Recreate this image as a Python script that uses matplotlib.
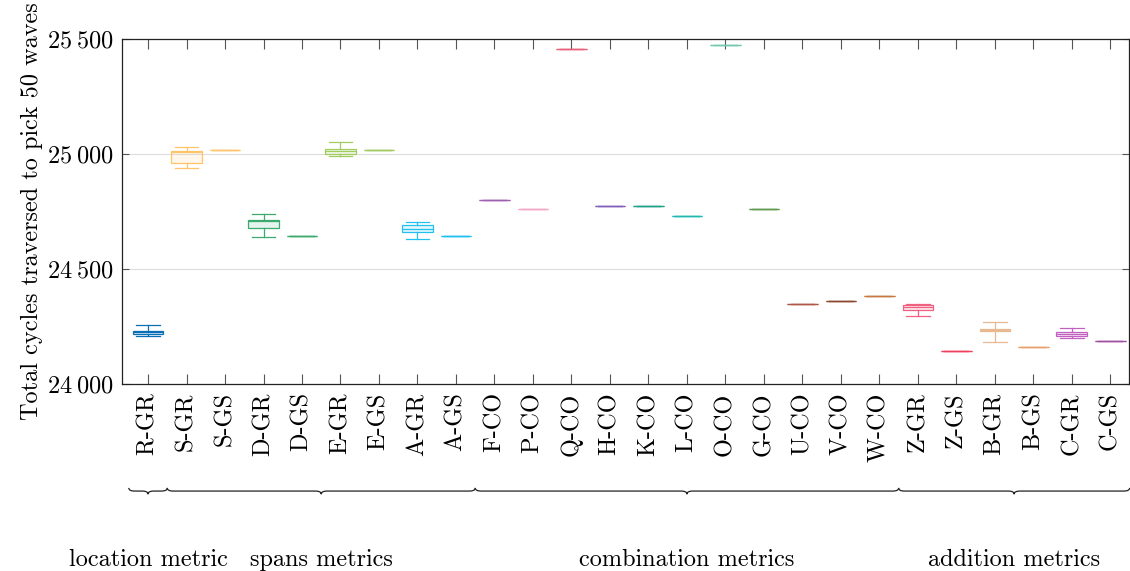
import matplotlib
matplotlib.use("Agg")
import matplotlib.pyplot as plt
from matplotlib.path import Path
from matplotlib.patches import PathPatch
from matplotlib.transforms import blended_transform_factory
from matplotlib.ticker import FuncFormatter

## data
labels = ["R-GR", "S-GR", "S-GS", "D-GR", "D-GS", "E-GR", "E-GS", "A-GR", "A-GS",
          "F-CO", "P-CO", "Q-CO", "H-CO", "K-CO", "L-CO", "O-CO", "G-CO",
          "U-CO", "V-CO", "W-CO", "Z-GR", "Z-GS", "B-GR", "B-GS", "C-GR", "C-GS"]
whisker_low = [24207, 24939, 25019, 24638, 24645, 24990, 25017, 24632, 24645,
               24800, 24761, 25457, 24775, 24775, 24730, 25475, 24761,
               24349, 24361, 24384, 24294, 24145, 24184, 24162, 24199, 24186]
quart_low = [24218, 24962, 25019, 24677, 24645, 25000, 25017, 24662, 24645,
             24800, 24761, 25457, 24775, 24775, 24730, 25475, 24761,
             24349, 24361, 24384, 24320, 24145, 24229, 24162, 24207, 24186]
medians = [24226, 25010, 25019, 24707, 24645, 25013, 25017, 24673, 24645,
           24800, 24761, 25457, 24775, 24775, 24730, 25475, 24761,
           24349, 24361, 24384, 24333, 24145, 24235, 24162, 24217, 24186]
quart_high = [24232, 25012, 25019, 24713, 24645, 25020, 25017, 24690, 24645,
              24800, 24761, 25457, 24775, 24775, 24730, 25475, 24761,
              24349, 24361, 24384, 24342, 24145, 24240, 24162, 24226, 24186]
whisker_high = [24255, 25029, 25019, 24738, 24645, 25053, 25017, 24703, 24645,
                24800, 24761, 25457, 24775, 24775, 24730, 25475, 24761,
                24349, 24361, 24384, 24346, 24145, 24271, 24162, 24242, 24186]
colors = ["#0a6eb4", "#ffc46a", "#ffc46a", "#3caa6e", "#3caa6e", "#a0cc60", "#a0cc60",
          "#22c0ee", "#22c0ee", "#a060b0", "#f4a8c8", "#e8607a", "#8060b8", "#20a088",
          "#20b8b0", "#70c8b0", "#609850", "#b05848", "#8b4a30", "#c87840", "#f06080",
          "#f04060", "#e8b890", "#e8a070", "#c060c0", "#a050a0"]

## groups: (name, first position, last position)
group_names = ["location metric", "spans metrics", "combination metrics", "addition metrics"]
group_first = [1, 2, 10, 21]
group_last = [1, 9, 20, 26]

y_ticks = [24000, 24500, 25000, 25500]


def draw_brace(ax, fig, x0, x1, y, amp):
    """
    draw a horizontal curly brace, tip pointing down
    """

    ## shape
    d = 0.15
    xm = (x0 + x1) / 2.0
    verts = [(x0, y + amp), (x0, y), (x0 + d, y),
             (xm - d, y),
             (xm, y), (xm, y - amp),
             (xm, y), (xm + d, y),
             (x1 - d, y),
             (x1, y), (x1, y + amp)]
    codes = [Path.MOVETO, Path.CURVE3, Path.CURVE3,
             Path.LINETO,
             Path.CURVE3, Path.CURVE3,
             Path.CURVE3, Path.CURVE3,
             Path.LINETO,
             Path.CURVE3, Path.CURVE3]
    trans = blended_transform_factory(ax.transData, fig.transFigure)
    patch = PathPatch(Path(verts, codes), facecolor="none", edgecolor="#222222",
                      lw=0.9, transform=trans, clip_on=False)
    fig.add_artist(patch)


def thin_space(v, pos):
    """
    format 25500 as 25 500
    """
    s = "%d" % v
    return r"$%s\:%s$" % (s[:-3], s[-3:])


## fonts
plt.rcParams["font.family"] = "serif"
plt.rcParams["font.serif"] = ["cmr10", "DejaVu Serif"]
plt.rcParams["mathtext.fontset"] = "cm"
plt.rcParams["axes.unicode_minus"] = False
plt.rcParams["font.size"] = 17.5

fig = plt.figure(figsize=(11.3, 5.71), dpi=100)
ax = fig.add_axes([0.108, 0.3275, 0.891, 0.6042])

## box stats
stats = []
for i in range(len(labels)):
    stats.append({"med": medians[i], "q1": quart_low[i], "q3": quart_high[i],
                  "whislo": whisker_low[i], "whishi": whisker_high[i],
                  "fliers": [], "label": labels[i]})

positions = list(range(1, len(labels) + 1))
bp = ax.bxp(stats, positions=positions, widths=0.8, capwidths=0.62,
            patch_artist=True, showfliers=False, zorder=3)

## color everything
for i in range(len(labels)):
    c = colors[i]
    bp["boxes"][i].set_facecolor(matplotlib.colors.to_rgba(c, 0.13))
    bp["boxes"][i].set_edgecolor(c)
    bp["boxes"][i].set_linewidth(0.9)
    bp["medians"][i].set_color(c)
    bp["medians"][i].set_linewidth(0.9)
    for k in [2 * i, 2 * i + 1]:
        bp["whiskers"][k].set_color(c)
        bp["whiskers"][k].set_linewidth(0.9)
        bp["caps"][k].set_color(c)
        bp["caps"][k].set_linewidth(0.9)

## axes
ax.set_xlim(0.325, 26.48)
ax.set_ylim(24000, 25500)
ax.set_xticks(positions)
ax.set_xticklabels(labels, rotation=90)
ax.set_yticks(y_ticks)
ax.yaxis.set_major_formatter(FuncFormatter(thin_space))
ax.tick_params(axis="x", direction="in", length=7.5, width=0.8, color="#555555",
               top=True, pad=6)
ax.tick_params(axis="y", direction="in", length=5, width=0.8, color="#555555",
               right=True, pad=6)
ax.grid(axis="y", color="#dddddd", lw=0.8, zorder=0)
ax.set_axisbelow(True)
for sp in ax.spines.values():
    sp.set_linewidth(0.9)
    sp.set_color("#222222")
ax.set_ylabel("Total cycles traversed to pick 50 waves", labelpad=3)

## braces and group names
for g in range(len(group_names)):
    x0 = group_first[g] - 0.5
    x1 = group_last[g] + 0.5
    draw_brace(ax, fig, x0, x1, 0.140, 0.0055)
    trans = blended_transform_factory(ax.transData, fig.transFigure)
    fig.text((x0 + x1) / 2.0, 0.020, group_names[g], transform=trans,
             ha="center", va="center")

fig.savefig("out.png", dpi=100)
